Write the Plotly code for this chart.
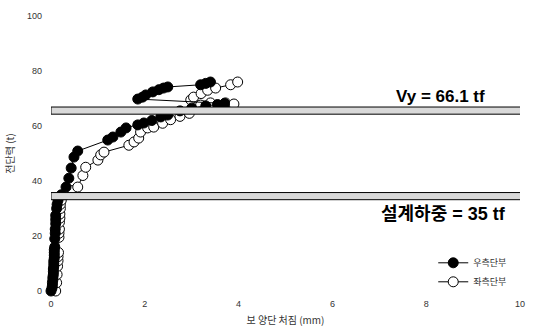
import plotly.graph_objects as go

# Right end (filled markers)
x_right = [0.00, 0.02, 0.03, 0.03, 0.04, 0.04, 0.05, 0.05, 0.05, 0.06, 0.06, 0.06, 0.07, 0.07, 0.07, 0.07, 0.08,
           0.08, 0.09, 0.09, 0.10, 0.10, 0.10, 0.12, 0.13, 0.15, 0.22,
           0.32, 0.38, 0.43, 0.49, 0.57,
           1.21, 1.32, 1.49, 1.60, 1.85, 1.98, 2.15, 2.34, 2.49, 2.75, 3.00, 3.30, 3.55, 3.70,
           1.85, 1.95, 2.02, 2.17, 2.30, 2.40, 2.49,
           3.19, 3.30, 3.40]
y_right = [0, 1, 2, 3, 4, 5, 6, 7, 8, 9, 10, 11, 12, 13, 14, 15, 16,
           19, 21, 22.5, 24.5, 26, 27.5, 30, 31.5, 33, 35,
           37.8, 41, 44.7, 48.7, 50.9,
           54.9, 56, 57.8, 59.3, 60.4, 61.1, 62, 63.3, 64, 65.5, 66.5, 67.3, 67.8, 68.2,
           69.8, 70.5, 71.3, 72.4, 73.2, 73.8, 74.2,
           75, 75.5, 76]

# Left end (open markers)
x_left = [0.10, 0.12, 0.13, 0.14, 0.15, 0.15, 0.16, 0.17, 0.17, 0.18, 0.18, 0.19, 0.19, 0.20, 0.20, 0.22,
          0.30, 0.45,
          0.57, 0.68, 0.74, 1.00, 1.06, 1.13,
          1.66, 1.77, 1.87, 1.91, 2.06, 2.19, 2.38, 2.55, 2.75, 2.95,
          3.19, 3.40, 3.72, 3.90,
          2.98, 3.04, 3.20, 3.34, 3.51, 3.83, 3.98]
y_left = [0, 3, 6, 9, 11, 12.5, 14, 19.5, 21, 22.5, 25, 26.5, 28, 30, 31.5, 33,
          35, 36.5,
          37.8, 42, 45, 47.6, 49.5, 50.5,
          53, 54.2, 55.6, 57.8, 59.3, 59.6, 61, 62.3, 63.5, 64.6,
          67.6, 68.4, 68.4, 68.0,
          69.5, 70.5, 71.8, 73, 73.8, 75, 76]

vy_level = 66.1
design_level = 35
x_ticks = [0, 2, 4, 6, 8, 10]
y_ticks = [0, 20, 40, 60, 80, 100]

KFONT = "Noto Sans CJK KR"
AFONT = "Liberation Sans, Arial, " + KFONT

fig = go.Figure()

fig.add_trace(go.Scatter(
    x=x_left, y=y_left, mode="lines+markers", name="좌측단부",
    line=dict(color="black", width=1),
    marker=dict(symbol="circle", size=10, color="white", line=dict(color="black", width=1)),
    cliponaxis=False,
))
fig.add_trace(go.Scatter(
    x=x_right, y=y_right, mode="lines+markers", name="우측단부",
    line=dict(color="black", width=1),
    marker=dict(symbol="circle", size=10, color="black", line=dict(color="black", width=1)),
    cliponaxis=False,
))

for lvl, half in [(vy_level, 1.3), (design_level, 1.3)]:
    fig.add_shape(type="rect", xref="x", yref="y", x0=0, x1=10.15,
                  y0=lvl - half - 0.5, y1=lvl + half - 0.5,
                  fillcolor="#d9d9d9", line=dict(color="black", width=1), layer="above")

fig.add_annotation(x=9.3, y=vy_level + 0.6, xref="x", yref="y", text="<b>Vy = 66.1 tf</b>",
                   showarrow=False, xanchor="right", yanchor="bottom",
                   font=dict(family=AFONT, size=17, color="black"))
fig.add_annotation(x=9.74, y=design_level - 2.6, xref="x", yref="y", text="<b>설계하중 = 35 tf</b>",
                   showarrow=False, xanchor="right", yanchor="top",
                   font=dict(family=AFONT, size=18, color="black"))

fig.update_layout(
    width=533, height=332,
    margin=dict(l=51, r=13, t=16, b=41),
    paper_bgcolor="white", plot_bgcolor="white",
    showlegend=True,
    legend=dict(x=0.815, y=0.068, xanchor="left", yanchor="middle", traceorder="reversed",
                bgcolor="rgba(0,0,0,0)", font=dict(family=KFONT, size=9, color="#333"),
                itemwidth=30, tracegroupgap=0),
    font=dict(family=AFONT, size=9, color="#333"),
)
fig.update_xaxes(range=[0, 10], tickvals=x_ticks, showgrid=False, zeroline=False, showline=False,
                 ticks="", ticklabelstandoff=6, automargin=False,
                 title=dict(text="보 양단 처짐 (mm)", font=dict(family=KFONT, size=10, color="#333"), standoff=8))
fig.update_yaxes(range=[0, 100], tickvals=y_ticks, showgrid=False, zeroline=False, showline=False,
                 ticks="", ticklabelstandoff=8, automargin=False,
                 title=dict(text="전단력 (t)", font=dict(family=KFONT, size=10, color="#333"), standoff=10))

fig.write_html("out.html")
